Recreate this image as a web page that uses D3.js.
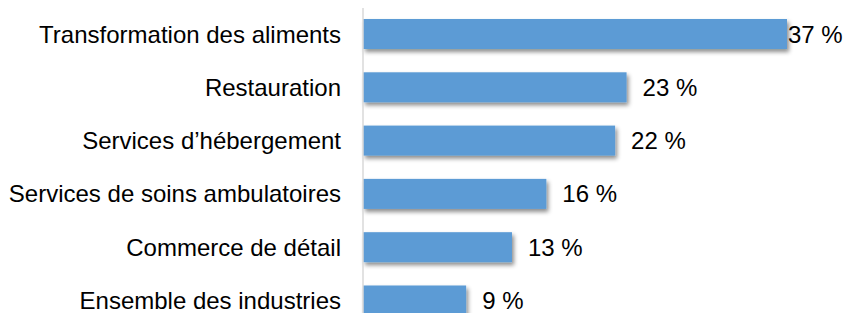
<!DOCTYPE html>
<html><head><meta charset="utf-8">
<script src="https://cdn.jsdelivr.net/npm/d3@7"></script>
<style>body{margin:0;background:#fff}svg{display:block}text{font-family:"Liberation Sans",Arial,sans-serif;fill:#000}</style>
</head><body><svg id="c" width="843" height="313"></svg>
<script>
const categories = ["Transformation des aliments","Restauration","Services d’hébergement","Services de soins ambulatoires","Commerce de détail","Ensemble des industries"];
const values = [37,23,22,16,13,9];
const valueLabels = ["37 %","23 %","22 %","16 %","13 %","9 %"];

const W = 843, H = 313;
const svg = d3.select("#c");
const defs = svg.append("defs");
const f = defs.append("filter").attr("id","sh").attr("x","-5%").attr("y","-20%").attr("width","115%").attr("height","160%");
f.append("feDropShadow").attr("dx",2).attr("dy",3).attr("stdDeviation",2).attr("flood-color","#000").attr("flood-opacity",0.45);

const x0 = 363;
const x = d3.scaleLinear().domain([0,37]).range([x0,787]);
const y = d3.scaleBand().domain(categories).range([7.35, 7.35+53.3*6]).paddingInner(0.437).paddingOuter(0.2185);

svg.append("g").selectAll("rect").data(categories).join("rect")
  .attr("x", x(0)).attr("y", d=>y(d)).attr("width", (d,i)=>x(values[i])-x(0)).attr("height", y.bandwidth())
  .attr("fill","#5b9bd5").attr("filter","url(#sh)");

svg.append("line").attr("x1",x0).attr("x2",x0).attr("y1",8).attr("y2",H).attr("stroke","#d9d9d9").attr("stroke-width",1.5);

svg.append("g").selectAll("text").data(categories).join("text")
  .attr("x", 341).attr("y", d=>y(d)+y.bandwidth()/2).attr("text-anchor","end").attr("dominant-baseline","central")
  .attr("font-size",24).text(d=>d);

svg.append("g").selectAll("text").data(categories).join("text")
  .attr("y", d=>y(d)+y.bandwidth()/2).attr("dominant-baseline","central").attr("font-size",24)
  .text((d,i)=>valueLabels[i])
  .each(function(d,i){
    const t=d3.select(this); const w=this.getComputedTextLength();
    let px = x(values[i])+16; if (px+w>W-1) px = x(values[i])+1;
    t.attr("x",px);
  });
</script></body></html>
